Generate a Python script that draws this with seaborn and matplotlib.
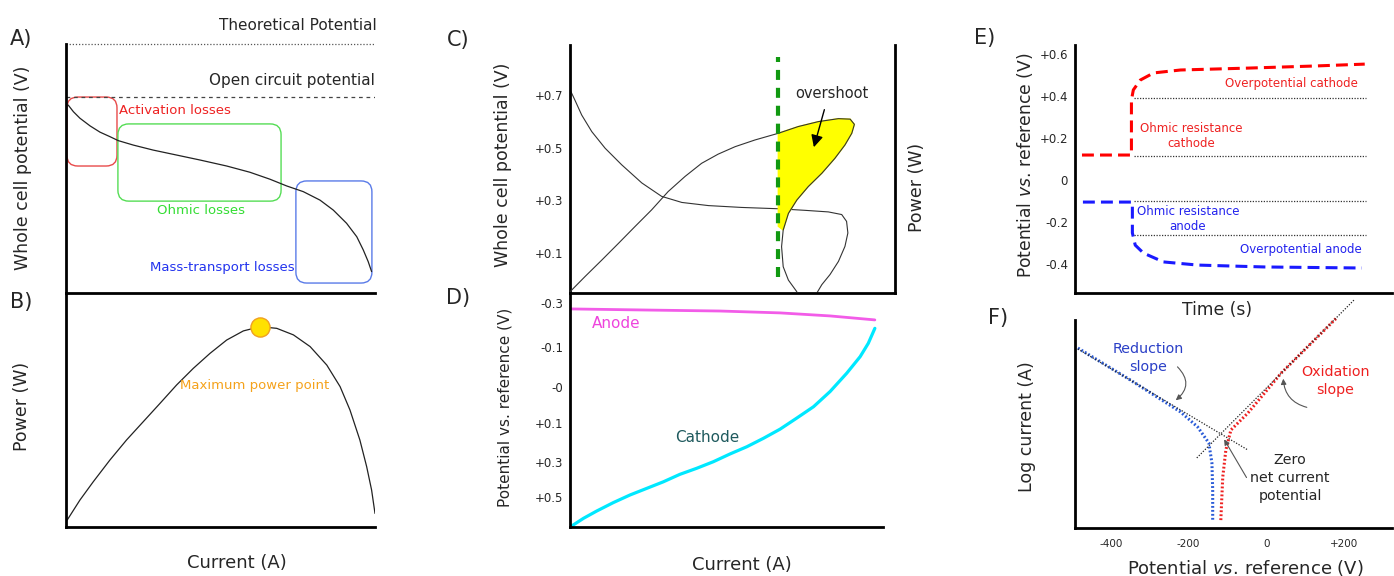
import numpy as np
import pandas as pd
import matplotlib.pyplot as plt
import seaborn as sns
from matplotlib.patches import FancyBboxPatch

# A) polarisation curve (normalised current / potential)
pol_current = [0.007, 0.024, 0.045, 0.078, 0.110, 0.142, 0.169, 0.218, 0.282, 0.358, 0.434,
               0.520, 0.595, 0.660, 0.714, 0.768, 0.822, 0.865, 0.908, 0.941, 0.962, 0.978,
               0.989]
pol_potential = [0.755, 0.728, 0.702, 0.671, 0.646, 0.628, 0.612, 0.594, 0.574, 0.554, 0.534,
                 0.510, 0.485, 0.457, 0.430, 0.407, 0.373, 0.333, 0.280, 0.226, 0.173, 0.126,
                 0.086]
theoretical_potential = 1.0
open_circuit_potential = 0.787

# B) power curve
power_current = [0.004, 0.045, 0.088, 0.142, 0.196, 0.250, 0.304, 0.358, 0.412, 0.466, 0.520,
                 0.574, 0.628, 0.682, 0.736, 0.790, 0.844, 0.887, 0.919, 0.951, 0.973, 0.989,
                 1.0]
power_output = [0.030, 0.115, 0.193, 0.286, 0.372, 0.450, 0.528, 0.607, 0.678, 0.742, 0.799,
                0.838, 0.856, 0.849, 0.821, 0.771, 0.692, 0.600, 0.500, 0.372, 0.258, 0.158,
                0.058]

# C) overshoot: potential (left axis) and power (right axis)
c_current_v = [0.002, 0.015, 0.036, 0.067, 0.108, 0.159, 0.221, 0.282, 0.344, 0.426, 0.528,
               0.641, 0.723, 0.795, 0.836, 0.851, 0.855, 0.846, 0.826, 0.800, 0.775, 0.761]
c_potential = [0.715, 0.681, 0.624, 0.561, 0.498, 0.435, 0.366, 0.315, 0.292, 0.280, 0.273,
               0.268, 0.262, 0.256, 0.246, 0.220, 0.176, 0.125, 0.068, 0.018, -0.020, -0.049]
c_current_p = [0.0, 0.046, 0.098, 0.149, 0.200, 0.251, 0.302, 0.354, 0.405, 0.456, 0.508,
               0.569, 0.641, 0.702, 0.764, 0.826, 0.862, 0.875, 0.867, 0.846, 0.815, 0.775,
               0.733, 0.698, 0.672, 0.656, 0.651, 0.656, 0.672, 0.698]
c_power = [0.005, 0.066, 0.133, 0.200, 0.268, 0.335, 0.409, 0.470, 0.523, 0.560, 0.590,
           0.617, 0.644, 0.671, 0.691, 0.703, 0.701, 0.680, 0.644, 0.597, 0.543, 0.483,
           0.429, 0.375, 0.321, 0.254, 0.187, 0.106, 0.052, 0.005]
overshoot_current = 0.641
c_ticks = [0.1, 0.3, 0.5, 0.7]
c_tick_labels = ["+0.1", "+0.3", "+0.5", "+0.7"]

# D) electrode potentials
d_current_anode = [0, 0.256, 0.479, 0.671, 0.831, 0.974]
d_anode = [0.932, 0.927, 0.923, 0.915, 0.902, 0.885]
d_current_cathode = [0.005, 0.043, 0.085, 0.138, 0.192, 0.245, 0.298, 0.351, 0.405, 0.458,
                     0.511, 0.565, 0.618, 0.671, 0.724, 0.778, 0.831, 0.884, 0.927, 0.953,
                     0.974]
d_cathode = [0.004, 0.037, 0.068, 0.104, 0.137, 0.165, 0.193, 0.225, 0.251, 0.279, 0.312,
             0.343, 0.379, 0.418, 0.465, 0.514, 0.579, 0.657, 0.728, 0.785, 0.849]
d_tick_pos = [0.957, 0.769, 0.598, 0.444, 0.278, 0.128]
d_tick_labels = ["-0.3", "-0.1", "-0", "+0.1", "+0.3", "+0.5"]

# E) current interrupt
e_time_cathode = [0.022, 0.178, 0.178, 0.184, 0.206, 0.248, 0.333, 0.546, 0.756, 0.914]
e_cathode = [0.119, 0.119, 0.381, 0.429, 0.476, 0.510, 0.524, 0.533, 0.543, 0.552]
e_time_anode = [0.025, 0.181, 0.181, 0.19, 0.216, 0.279, 0.387, 0.597, 0.905]
e_anode = [-0.105, -0.105, -0.252, -0.31, -0.348, -0.39, -0.405, -0.414, -0.419]
e_levels = [0.39, 0.114, -0.1, -0.262]
e_ticks = [0.6, 0.4, 0.2, 0, -0.2, -0.4]
e_tick_labels = ["+0.6", "+0.4", "+0.2", "0", "-0.2", "-0.4"]

# F) Tafel plot
f_pot_red = [-486, -351, -221, -177, -148, -140, -138, -138]
f_cur_red = [0.865, 0.712, 0.558, 0.486, 0.409, 0.313, 0.183, 0.038]
f_pot_ox = [-117, -112, -104, -91, -47, 39, 182]
f_cur_ox = [0.038, 0.245, 0.375, 0.471, 0.553, 0.745, 1.01]
f_tan_red_x = [-486, -47]
f_tan_red_y = [0.861, 0.375]
f_tan_ox_x = [-179, 229]
f_tan_ox_y = [0.337, 1.10]
f_ticks = [-400, -200, 0, 200]
f_tick_labels = ["-400", "-200", "0", "+200"]

W, H = 1394, 576
sns.set_style("white")
plt.rcParams["font.family"] = ["DejaVu Sans"]
plt.rcParams["mathtext.fontset"] = "dejavusans"

fig = plt.figure(figsize=(W / 100, H / 100), dpi=100)


def add_ax(l, t, r, b, sides):
    ax = fig.add_axes([l / W, 1 - b / H, (r - l) / W, (b - t) / H])
    ax.set_facecolor("none")
    for name, s in ax.spines.items():
        s.set_visible(name in sides)
        s.set_linewidth(2.0)
        s.set_color("black")
    ax.tick_params(length=0)
    return ax


def ftext(x, y, s, **kw):
    kw.setdefault("ha", "center")
    kw.setdefault("va", "center")
    fig.text(x / W, 1 - y / H, s, **kw)


def line(ax, x, y, **kw):
    sns.lineplot(x=x, y=y, ax=ax, sort=False, estimator=None, **kw)
    return ax.lines[-1]


vs_label = r"Potential $\it{vs.}\,$reference (V)"

# ---------------- A
axA = add_ax(66, 44, 375, 293, ["left", "bottom"])
line(axA, pol_current, pol_potential, color="#222222", lw=0.9)
axA.axhline(theoretical_potential, color="#555555", lw=0.9, ls=(0, (1, 1.5)), clip_on=False)
axA.axhline(open_circuit_potential, color="#444444", lw=0.9, ls=(0, (3, 3)))
axA.set(xlim=(0, 1), ylim=(0, 1), xticks=[], yticks=[], xlabel="", ylabel="")
for x0, x1, y0, y1, col in [(0.003, 0.165, 0.51, 0.787, "#e84a4a"),
                            (0.168, 0.696, 0.369, 0.679, "#55dd55"),
                            (0.744, 0.990, 0.040, 0.450, "#5a7be8")]:
    axA.add_patch(FancyBboxPatch((x0, y0), x1 - x0, y1 - y0,
                                 boxstyle="round,pad=0,rounding_size=0.035",
                                 mutation_aspect=1.24, fc="none", ec=col, lw=1.0))

ftext(21, 39, "A)", fontsize=15, ha="center")
ftext(377, 25, "Theoretical Potential", fontsize=11, ha="right")
ftext(375, 80, "Open circuit potential", fontsize=11, ha="right")
ftext(119, 110, "Activation losses", fontsize=9.5, ha="left", color="#ee2222")
ftext(201, 211, "Ohmic losses", fontsize=9.5, color="#33dd33")
ftext(222, 268, "Mass-transport losses", fontsize=9.5, color="#2233ee")
ftext(23, 168, "Whole cell potential (V)", fontsize=12.5, rotation=90)

# ---------------- B
axB = add_ax(66, 293, 375, 527, ["left", "bottom"])
line(axB, power_current, power_output, color="#222222", lw=0.9)
imax = int(np.argmax(power_output))
sns.scatterplot(x=[power_current[imax]], y=[power_output[imax]], ax=axB, s=190,
                color="#ffe100", edgecolor="#f0a020", linewidth=1, zorder=4)
axB.set(xlim=(0, 1), ylim=(0, 1), xticks=[], yticks=[], xlabel="", ylabel="")
ftext(21, 302, "B)", fontsize=15)
ftext(255, 385, "Maximum power point", fontsize=9.5, color="#f5a21b")
ftext(22, 406, "Power (W)", fontsize=12.5, rotation=90)
ftext(237, 563, "Current (A)", fontsize=13)

# ---------------- C
axC = add_ax(570, 45, 895, 293, ["left", "right", "bottom"])
line(axC, c_current_v, c_potential, color="#333333", lw=0.8)
axC.set(xlim=(0, 1), ylim=(-0.052, 0.89), xticks=[], xlabel="", ylabel="")
axC.set_yticks(c_ticks)
axC.set_yticklabels(c_tick_labels, fontsize=8.5)
axC.tick_params(axis="y", pad=5)

axCp = axC.twinx()
axCp.set_facecolor("none")
for s in axCp.spines.values():
    s.set_visible(False)
line(axCp, c_current_p, c_power, color="#333333", lw=0.8)
# overshoot region right of the dashed marker
fill_x = c_current_p[12:26] + [overshoot_current]
fill_y = c_power[12:26] + [c_power[25] + 0.015]
axCp.fill(fill_x, fill_y, color="#ffff00", zorder=1)
axCp.axvline(overshoot_current, ymin=0.065, ymax=0.952, color="#119911", lw=3,
             dashes=(2.4, 1.9), zorder=5)
axCp.set(xlim=(0, 1), ylim=(0, 1), yticks=[], xlabel="", ylabel="")
axCp.annotate("", xy=(0.748, 0.577), xytext=(0.785, 0.75),
              arrowprops=dict(arrowstyle="-|>", color="black", lw=1.0, mutation_scale=18))
ftext(832, 93, "overshoot", fontsize=10.5)
ftext(458, 40, "C)", fontsize=15)
ftext(503, 165, "Whole cell potential (V)", fontsize=12.5, rotation=90)
ftext(917, 187, "Power (W)", fontsize=12.5, rotation=90)

# ---------------- D
axD = add_ax(570, 293, 883, 527, ["left", "bottom"])
line(axD, d_current_anode, d_anode, color="#f25ce8", lw=2.0)
line(axD, d_current_cathode, d_cathode, color="#00e8ff", lw=2.3)
axD.set(xlim=(0, 1), ylim=(0, 1), xticks=[], xlabel="", ylabel="")
axD.set_yticks(d_tick_pos)
axD.set_yticklabels(d_tick_labels, fontsize=8.5)
axD.tick_params(axis="y", pad=5)
ftext(616, 323, "Anode", fontsize=11, color="#ee44dd")
ftext(707, 438, "Cathode", fontsize=11, color="#1f5a5e")
ftext(458, 298, "D)", fontsize=15)
ftext(505, 407, "Potential vs. reference (V)", fontsize=11, rotation=90)
ftext(742, 565, "Current (A)", fontsize=13)

# ---------------- E
axE = add_ax(1075, 45, 1392, 293, ["left", "bottom"])
ln = line(axE, e_time_cathode, e_cathode, color="#ff0000", lw=2.2)
ln.set_dashes((3.9, 2.0))
ln = line(axE, e_time_anode, e_anode, color="#1a1aff", lw=2.2)
ln.set_dashes((3.9, 2.0))
axE.hlines(e_levels, 0.187, 0.918, color="#333333", lw=0.9, linestyles=[(0, (1, 1.2))])
axE.set(xlim=(0, 1), ylim=(-0.538, 0.643), xticks=[], xlabel="", ylabel="")
axE.set_yticks(e_ticks)
axE.set_yticklabels(e_tick_labels, fontsize=8.5)
axE.tick_params(axis="y", pad=5)
ftext(1358, 84, "Overpotential cathode", fontsize=8.5, ha="right", color="#ee2222")
ftext(1191, 136, "Ohmic resistance\ncathode", fontsize=8.5, color="#ee2222", linespacing=1.2)
ftext(1188, 219, "Ohmic resistance\nanode", fontsize=8.5, color="#2222ee", linespacing=1.2)
ftext(1362, 250, "Overpotential anode", fontsize=8.5, ha="right", color="#2222ee")
ftext(985, 38, "E)", fontsize=15)
ftext(1025, 165, vs_label, fontsize=12.3, rotation=90)
ftext(1217, 310, "Time (s)", fontsize=12.3)

# ---------------- F
axF = add_ax(1075, 320, 1392, 528, ["left", "bottom"])
ln = line(axF, f_pot_red, f_cur_red, color="#2a5bd7", lw=2.2)
ln.set_linestyle((0, (0.6, 0.7)))
ln = line(axF, f_pot_ox, f_cur_ox, color="#ee2020", lw=2.2)
ln.set_linestyle((0, (0.6, 0.7)))
ln.set_clip_on(False)
for tx, ty in [(f_tan_red_x, f_tan_red_y), (f_tan_ox_x, f_tan_ox_y)]:
    ln = line(axF, tx, ty, color="#222222", lw=0.9)
    ln.set_linestyle((0, (1, 1.3)))
    ln.set_clip_on(False)
axF.set(xlim=(-493.5, 325), ylim=(0, 1), yticks=[], xlabel="", ylabel="")
axF.set_xticks(f_ticks)
axF.set_xticklabels(f_tick_labels, fontsize=7.5)
axF.tick_params(axis="x", pad=8)
arrow = dict(arrowstyle="-|>", color="#555555", lw=0.8, mutation_scale=8)
axF.annotate("", xy=(-239, 0.606), xytext=(-234, 0.784),
             arrowprops=dict(arrow, connectionstyle="arc3,rad=-0.6"))
axF.annotate("", xy=(44, 0.731), xytext=(112, 0.577),
             arrowprops=dict(arrow, connectionstyle="arc3,rad=-0.4"))
axF.annotate("", xy=(-112, 0.4375), xytext=(-47, 0.231), arrowprops=arrow)
ftext(1148, 358, "Reduction\nslope", fontsize=10.3, color="#2a3fc7", linespacing=1.35)
ftext(1335, 381, "Oxidation\nslope", fontsize=10.3, color="#ee2020", linespacing=1.35)
ftext(1290, 478, "Zero\nnet current\npotential", fontsize=10.3, linespacing=1.35)
ftext(998, 318, "F)", fontsize=15)
ftext(1027, 427, "Log current (A)", fontsize=12.5, rotation=90)
ftext(1245, 568, vs_label, fontsize=13)

fig.savefig("out.png", dpi=100)
